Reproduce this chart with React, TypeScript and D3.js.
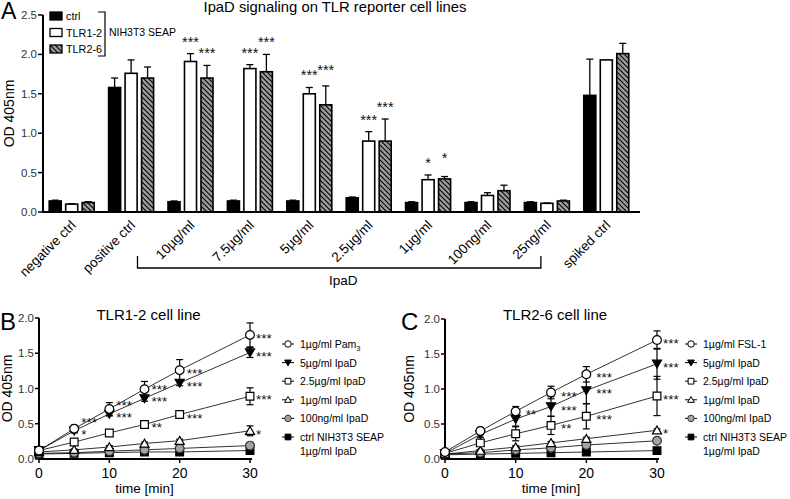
import React from 'react';
import * as d3 from 'd3';

// ---------- Panel A data ----------
const groups = ['negative ctrl', 'positive ctrl', '10µg/ml', '7.5µg/ml', '5µg/ml', '2.5µg/ml', '1µg/ml', '100ng/ml', '25ng/ml', 'spiked ctrl'];
const cellLines = ['ctrl', 'TLR1-2', 'TLR2-6'];
const ctrlMean = [0.14, 1.58, 0.13, 0.14, 0.14, 0.18, 0.12, 0.12, 0.12, 1.48];
const ctrlErr = [0.01, 0.12, 0.01, 0.01, 0.01, 0.01, 0.01, 0.01, 0.01, 0.46];
const tlr12Mean = [0.10, 1.76, 1.91, 1.82, 1.50, 0.90, 0.41, 0.21, 0.11, 1.93];
const tlr12Err = [0.005, 0.17, 0.10, 0.05, 0.08, 0.12, 0.06, 0.035, 0.005, 0];
const tlr26Mean = [0.12, 1.70, 1.70, 1.78, 1.36, 0.90, 0.42, 0.27, 0.14, 2.01];
const tlr26Err = [0.01, 0.14, 0.16, 0.22, 0.24, 0.28, 0.03, 0.07, 0.01, 0.13];
const ctrlSig = ['', '', '', '', '', '', '', '', '', ''];
const tlr12Sig = ['', '', '***', '***', '***', '***', '*', '', '', ''];
const tlr26Sig = ['', '', '***', '***', '***', '***', '*', '', '', ''];
const yTicksA = [0, 0.5, 1.0, 1.5, 2.0, 2.5];
const ipadGroups = ['10µg/ml', '25ng/ml'];

// ---------- Panels B / C data ----------
const times = [0, 5, 10, 15, 20, 30];
const xTicksT = [0, 10, 20, 30];
const yTicksT = [0, 0.5, 1.0, 1.5, 2.0];
const markerTypes = ['circleOpen', 'triDownFilled', 'squareOpen', 'triUpOpen', 'circleGray', 'squareFilled'];

const legendB = ['1µg/ml Pam', '5µg/ml IpaD', '2.5µg/ml IpaD', '1µg/ml IpaD', '100ng/ml IpaD', 'ctrl NIH3T3 SEAP'];
const legendSubB = ['3', '', '', '', '', ''];
const legendC = ['1µg/ml FSL-1', '5µg/ml IpaD', '2.5µg/ml IpaD', '1µg/ml IpaD', '100ng/ml IpaD', 'ctrl NIH3T3 SEAP'];
const legendSubC = ['', '', '', '', '', ''];
const legendSecondLine = ['', '', '', '', '', '1µg/ml IpaD'];

const pam3B = [0.12, 0.43, 0.71, 0.99, 1.26, 1.76];
const pam3BErr = [0.02, 0.05, 0.09, 0.11, 0.15, 0.17];
const ipad5B = [0.12, 0.40, 0.64, 0.86, 1.08, 1.51];
const ipad5BErr = [0.02, 0.03, 0.03, 0.04, 0.04, 0.07];
const ipad25B = [0.12, 0.24, 0.37, 0.49, 0.63, 0.89];
const ipad25BErr = [0.01, 0.02, 0.02, 0.03, 0.03, 0.12];
const ipad1B = [0.10, 0.13, 0.17, 0.22, 0.26, 0.40];
const ipad1BErr = [0.01, 0.01, 0.02, 0.02, 0.02, 0.07];
const ipad100B = [0.08, 0.09, 0.11, 0.13, 0.15, 0.19];
const ipad100BErr = [0.01, 0.01, 0.01, 0.01, 0.01, 0.02];
const ctrlB = [0.07, 0.08, 0.09, 0.10, 0.10, 0.12];
const ctrlBErr = [0.01, 0.01, 0.01, 0.01, 0.01, 0.01];
const pam3BSig = ['', '***', '***', '***', '***', '***'];
const ipad5BSig = ['', '*', '***', '***', '***', '***'];
const ipad25BSig = ['', '', '', '**', '***', '***'];
const ipad1BSig = ['', '', '', '', '', '*'];
const noSig = ['', '', '', '', '', ''];

const fslC = [0.10, 0.40, 0.68, 0.95, 1.21, 1.70];
const fslCErr = [0.02, 0.05, 0.07, 0.09, 0.11, 0.13];
const ipad5C = [0.08, 0.35, 0.57, 0.75, 0.98, 1.36];
const ipad5CErr = [0.02, 0.04, 0.10, 0.14, 0.19, 0.22];
const ipad25C = [0.08, 0.23, 0.36, 0.48, 0.61, 0.90];
const ipad25CErr = [0.01, 0.03, 0.10, 0.13, 0.18, 0.28];
const ipad1C = [0.07, 0.12, 0.17, 0.23, 0.29, 0.41];
const ipad1CErr = [0.01, 0.01, 0.02, 0.02, 0.02, 0.02];
const ipad100C = [0.07, 0.09, 0.13, 0.16, 0.20, 0.26];
const ipad100CErr = [0.01, 0.01, 0.01, 0.01, 0.02, 0.02];
const ctrlC = [0.06, 0.07, 0.08, 0.09, 0.10, 0.12];
const ctrlCErr = [0.01, 0.01, 0.01, 0.01, 0.01, 0.01];
const fslCSig = ['', '', '**', '***', '***', '***'];
const ipad5CSig = ['', '', '', '***', '***', '***'];
const ipad25CSig = ['', '', '', '**', '***', '***'];
const ipad1CSig = ['', '', '', '', '', '*'];

const FONT = "'Liberation Sans', Arial, Helvetica, sans-serif";

const barMeans = [ctrlMean, tlr12Mean, tlr26Mean];
const barErrs = [ctrlErr, tlr12Err, tlr26Err];
const barSigs = [ctrlSig, tlr12Sig, tlr26Sig];
const barFills = ['#000', '#fff', 'url(#hatchA)'];

function symbolPath(type: string, legend = false) {
  const k = legend ? 0.55 : 1;
  if (type.startsWith('circle')) return d3.symbol(d3.symbolCircle, 60 * k)()!;
  if (type.startsWith('square')) return d3.symbol(d3.symbolSquare, 60 * k)()!;
  return d3.symbol(d3.symbolTriangle, 36 * k)()!;
}

function Marker({ type, x, y, legend = false }: { type: string; x: number; y: number; legend?: boolean }) {
  const d = symbolPath(type, legend);
  let fill = '#fff';
  if (type.endsWith('Filled')) fill = '#000';
  if (type === 'circleGray') fill = '#a3a3a3';
  const rot = type === 'triDownFilled' ? ' rotate(180)' : '';
  const dy = type === 'triDownFilled' ? -1 : type === 'triUpOpen' ? 1 : 0;
  return <path d={d} transform={`translate(${x},${y + (legend ? dy * 0.6 : dy)})${rot}`} fill={fill} stroke={type === 'circleGray' ? '#333' : '#000'} strokeWidth={legend ? 1 : 1.2} />;
}

type Series = { values: number[]; errs: number[]; sig: string[]; marker: string };

function TimePanel(props: {
  x0: number; x1: number; yBottom: number; yTop: number;
  series: Series[]; title: string; letter: string; letterX: number;
  legend: string[]; legendSub: string[]; legendX: number; labelX: number; sigDx: number;
}) {
  const { x0, x1, yBottom, yTop, series, title, letter, letterX, legend, legendSub, legendX, labelX, sigDx } = props;
  const x = d3.scaleLinear().domain([0, 30]).range([x0, x1]);
  const y = d3.scaleLinear().domain([0, 2]).range([yBottom, yTop]);
  const line = d3.line<number>().x((_, i) => x(times[i])).y((v) => y(v));

  // significance labels with simple collision avoidance per time point
  const labels: { x: number; y: number; text: string }[] = [];
  times.forEach((t, ti) => {
    const arr = series
      .filter((s) => s.sig[ti])
      .map((s) => ({ x: x(t) + (ti === times.length - 1 ? 6 : sigDx), y: y(s.values[ti]), text: s.sig[ti] }))
      .sort((a, b) => b.y - a.y);
    for (let i = 1; i < arr.length; i++) {
      if (arr[i].y > arr[i - 1].y - 12) arr[i].y = arr[i - 1].y - 12;
    }
    labels.push(...arr);
  });

  const legendY0 = 344;
  const legendStep = 18.6;
  const titleX = (x0 + x1) / 2 + 4;

  return (
    <g>
      <text x={letterX} y={330} fontSize={24} fontFamily={FONT}>{letter}</text>
      <text x={titleX} y={320} fontSize={15} textAnchor="middle" fontFamily={FONT}>{title}</text>
      {/* y axis */}
      <line x1={x0} x2={x0} y1={y(2)} y2={y(0)} stroke="#000" strokeWidth={2} />
      {yTicksT.map((t) => (
        <g key={t}>
          <line x1={x0 - 4} x2={x0} y1={y(t)} y2={y(t)} stroke="#000" strokeWidth={1.5} />
          <text x={x0 - 5} y={y(t) + 4} fontSize={11.5} textAnchor="end" fill="#333" fontFamily={FONT}>{d3.format('.1f')(t)}</text>
        </g>
      ))}
      {/* x axis */}
      <line x1={x0 - 1} x2={x1 + 2} y1={y(0)} y2={y(0)} stroke="#000" strokeWidth={2} />
      {xTicksT.map((t) => (
        <g key={t}>
          <line x1={x(t)} x2={x(t)} y1={y(0)} y2={y(0) + 4} stroke="#000" strokeWidth={1.5} />
          <text x={x(t)} y={478} fontSize={14} textAnchor="middle" fontFamily={FONT}>{t}</text>
        </g>
      ))}
      <text x={(x0 + x1) / 2} y={493} fontSize={13.5} textAnchor="middle" fontFamily={FONT}>time [min]</text>
      <text transform={`translate(${labelX},${(y(0) + y(2)) / 2}) rotate(-90)`} fontSize={14} textAnchor="middle" fontFamily={FONT}>OD 405nm</text>

      {/* error bars */}
      {series.map((s, si) =>
        s.values.map((v, i) => {
          const cx = x(times[i]);
          const top = y(v + s.errs[i]);
          const bot = y(Math.max(0, v - s.errs[i]));
          return (
            <g key={`e${si}-${i}`} stroke="#000" strokeWidth={1.2}>
              <line x1={cx} x2={cx} y1={top} y2={bot} />
              <line x1={cx - 3.5} x2={cx + 3.5} y1={top} y2={top} />
              <line x1={cx - 3.5} x2={cx + 3.5} y1={bot} y2={bot} />
            </g>
          );
        })
      )}
      {/* lines */}
      {series.map((s, si) => (
        <path key={`l${si}`} d={line(s.values)!} fill="none" stroke="#000" strokeWidth={0.8} />
      ))}
      {/* markers (bottom series first) */}
      {[...series].reverse().map((s, si) =>
        s.values.map((v, i) => <Marker key={`m${si}-${i}`} type={s.marker} x={x(times[i])} y={y(v)} />)
      )}
      {labels.map((l, i) => (
        <text key={`s${i}`} x={l.x} y={l.y + 8} fontSize={13.5} fontFamily={FONT} fill="#111">{l.text}</text>
      ))}
      {/* legend */}
      {legend.map((name, i) => {
        const cy = legendY0 + i * legendStep;
        return (
          <g key={`lg${i}`}>
            <line x1={legendX - 6} x2={legendX + 6} y1={cy} y2={cy} stroke="#000" strokeWidth={1} />
            <Marker type={series[i].marker} x={legendX} y={cy} legend />
            <text x={legendX + 12} y={cy + 4} fontSize={10.5} fontFamily={FONT}>
              {name}
              {legendSub[i] ? <tspan dy={3} fontSize={7.5}>{legendSub[i]}</tspan> : null}
            </text>
            {legendSecondLine[i] ? (
              <text x={legendX + 12} y={cy + 17.5} fontSize={10.5} fontFamily={FONT}>{legendSecondLine[i]}</text>
            ) : null}
          </g>
        );
      })}
    </g>
  );
}

export default function App() {
  const yA = d3.scaleLinear().domain([0, 2.5]).range([212, 15]);
  const xA = d3.scaleBand<string>().domain(groups).range([42, 636]);
  const xIn = d3.scaleBand<string>().domain(cellLines).range([-22.5, 22.5]).paddingInner(0.27);
  const cxA = (g: string) => (xA(g) as number) + xA.bandwidth() / 2;
  const bw = xIn.bandwidth();

  const seriesB: Series[] = [
    { values: pam3B, errs: pam3BErr, sig: pam3BSig, marker: markerTypes[0] },
    { values: ipad5B, errs: ipad5BErr, sig: ipad5BSig, marker: markerTypes[1] },
    { values: ipad25B, errs: ipad25BErr, sig: ipad25BSig, marker: markerTypes[2] },
    { values: ipad1B, errs: ipad1BErr, sig: ipad1BSig, marker: markerTypes[3] },
    { values: ipad100B, errs: ipad100BErr, sig: noSig, marker: markerTypes[4] },
    { values: ctrlB, errs: ctrlBErr, sig: noSig, marker: markerTypes[5] },
  ];
  const seriesC: Series[] = [
    { values: fslC, errs: fslCErr, sig: fslCSig, marker: markerTypes[0] },
    { values: ipad5C, errs: ipad5CErr, sig: ipad5CSig, marker: markerTypes[1] },
    { values: ipad25C, errs: ipad25CErr, sig: ipad25CSig, marker: markerTypes[2] },
    { values: ipad1C, errs: ipad1CErr, sig: ipad1CSig, marker: markerTypes[3] },
    { values: ipad100C, errs: ipad100CErr, sig: noSig, marker: markerTypes[4] },
    { values: ctrlC, errs: ctrlCErr, sig: noSig, marker: markerTypes[5] },
  ];

  const bracketL = cxA(ipadGroups[0]) - 53;
  const bracketR = cxA(ipadGroups[1]) - 6;

  // asterisk positions for panel A (lift right one if it collides with its neighbour)
  const sigA: { x: number; y: number; text: string }[] = [];
  groups.forEach((g, gi) => {
    let prev: { x: number; y: number } | null = null;
    cellLines.forEach((c, ci) => {
      const txt = barSigs[ci][gi];
      if (!txt) { prev = null; return; }
      const v = barMeans[ci][gi] + barErrs[ci][gi];
      const mid = cxA(g) + (xIn(c) as number) + bw / 2;
      let yy = yA(v) - 7;
      if (prev && Math.abs(yy - prev.y) < 5) yy = prev.y - 5;
      const item = { x: mid, y: yy, text: txt };
      sigA.push(item);
      prev = item;
    });
  });

  return (
    <svg width={790} height={499} viewBox="0 0 790 499" style={{ position: 'absolute', left: 0, top: 0, background: '#fff' }} fontFamily={FONT}>
      <defs>
        <pattern id="hatchA" patternUnits="userSpaceOnUse" width={5} height={5}>
          <rect width={5} height={5} fill="#9c9c9c" />
          <path d="M-1,-1 L6,6 M-1,4 L1,6 M4,-1 L6,1" stroke="#000" strokeWidth={1.1} />
        </pattern>
      </defs>
      <rect width={790} height={499} fill="#fff" />

      {/* ---------- Panel A ---------- */}
      <text x={1} y={19} fontSize={23}>A</text>
      <text x={335} y={12} fontSize={14.8} textAnchor="middle">IpaD signaling on TLR reporter cell lines</text>
      <text transform={`translate(14,${(yA(0) + yA(2.5)) / 2}) rotate(-90)`} fontSize={14} textAnchor="middle">OD 405nm</text>
      {yTicksA.map((t) => (
        <g key={t}>
          <line x1={38} x2={43} y1={yA(t)} y2={yA(t)} stroke="#000" strokeWidth={1.5} />
          <text x={37} y={yA(t) + 4} fontSize={11.5} textAnchor="end" fill="#333">{d3.format('.1f')(t)}</text>
        </g>
      ))}
      {groups.map((g, gi) => (
        <g key={g}>
          {cellLines.map((c, ci) => {
            const v = barMeans[ci][gi];
            const e = barErrs[ci][gi];
            const bx = cxA(g) + (xIn(c) as number);
            const mid = bx + bw / 2;
            const top = yA(v + e);
            return (
              <g key={c}>
                {e > 0 ? (
                  <g stroke="#000" strokeWidth={1.3}>
                    <line x1={mid} x2={mid} y1={yA(v)} y2={top} />
                    <line x1={mid - 3.5} x2={mid + 3.5} y1={top} y2={top} />
                  </g>
                ) : null}
                <rect x={bx} y={yA(v)} width={bw} height={yA(0) - yA(v)} fill={barFills[ci]} stroke="#000" strokeWidth={1.6} />
              </g>
            );
          })}
          <text transform={`translate(${cxA(g) + 5},${226}) rotate(-45)`} fontSize={13.5} textAnchor="end">{g}</text>
        </g>
      ))}
      {sigA.map((s, i) => (
        <text key={`sa${i}`} x={s.x} y={s.y} fontSize={14.5} textAnchor="middle" fill="#111">{s.text}</text>
      ))}
      <line x1={43} x2={43} y1={yA(2.5)} y2={yA(0) + 1} stroke="#000" strokeWidth={2} />
      <line x1={42} x2={640} y1={yA(0)} y2={yA(0)} stroke="#000" strokeWidth={2} />

      {/* IpaD bracket */}
      <path d={`M${bracketL},256 L${bracketL},268 L${bracketR},268 L${bracketR},256`} fill="none" stroke="#000" strokeWidth={1.3} />
      <text x={(bracketL + bracketR) / 2 + 4} y={285} fontSize={13.5} textAnchor="middle">IpaD</text>

      {/* legend A */}
      {cellLines.map((c, i) => {
        const cy = 16 + i * 16.5;
        return (
          <g key={c}>
            <rect x={50} y={cy - 4} width={12} height={8} fill={barFills[i]} stroke="#000" strokeWidth={1.3} />
            <text x={66} y={cy + 4} fontSize={10.8}>{c}</text>
          </g>
        );
      })}
      <path d="M98,12 L105,12 L105,56 L98,56" fill="none" stroke="#000" strokeWidth={1.2} />
      <text x={109} y={36} fontSize={10.5}>NIH3T3 SEAP</text>

      {/* ---------- Panel B ---------- */}
      <TimePanel x0={39} x1={250} yBottom={459} yTop={318} series={seriesB} title="TLR1-2 cell line" letter="B" letterX={0} legend={legendB} legendSub={legendSubB} legendX={288} labelX={12} sigDx={7} />
      {/* ---------- Panel C ---------- */}
      <TimePanel x0={445} x1={657} yBottom={459} yTop={319} series={seriesC} title="TLR2-6 cell line" letter="C" letterX={401} legend={legendC} legendSub={legendSubC} legendX={691} labelX={414} sigDx={10} />
    </svg>
  );
}
